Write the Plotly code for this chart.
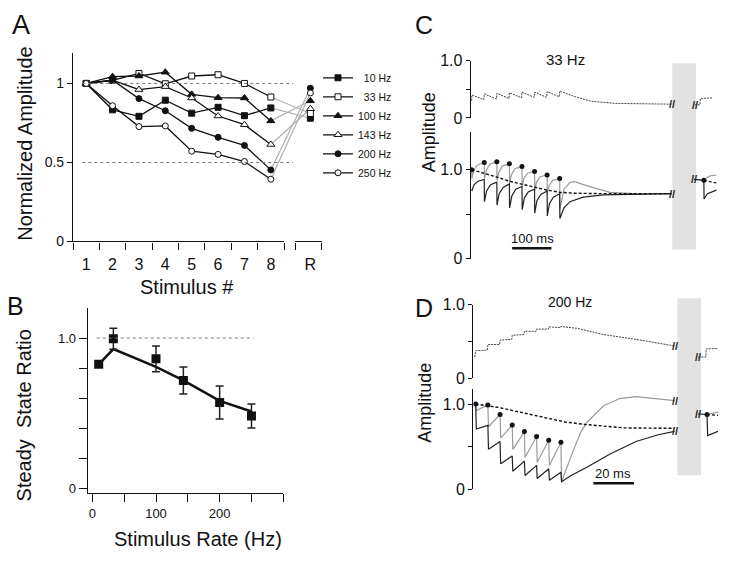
import plotly.graph_objects as go

FONT = "Liberation Sans, Arial, Helvetica, sans-serif"
W, H = 729, 568

# ---------------- Panel A : normalized amplitude per stimulus ----------------
STIM_LABELS = ["1", "2", "3", "4", "5", "6", "7", "8", "R"]
STIM_POS = [1, 2, 3, 4, 5, 6, 7, 8, 9.5]
A_NAMES = ["10 Hz", "33 Hz", "100 Hz", "143 Hz", "200 Hz", "250 Hz"]
A_10 = [1.0, 0.833, 0.792, 0.894, 0.812, 0.849, 0.796, 0.845, 0.78]
A_33 = [1.0, 1.02, 1.063, 0.998, 1.047, 1.055, 1.0, 0.914, 0.81]
A_100 = [1.0, 1.043, 1.047, 1.071, 0.931, 0.91, 0.908, 0.763, 0.89]
A_143 = [1.0, 1.02, 0.961, 0.98, 0.908, 0.794, 0.739, 0.614, 0.84]
A_200 = [1.0, 1.02, 0.904, 0.827, 0.716, 0.659, 0.608, 0.453, 0.97]
A_250 = [1.0, 0.859, 0.727, 0.731, 0.571, 0.551, 0.506, 0.394, 0.94]

# ---------------- Panel B : steady state ratio ----------------
B_RATE = [10, 33, 100, 143, 200, 250]
B_RATIO = [0.825, 0.996, 0.862, 0.718, 0.571, 0.481]
B_ERR = [0.02, 0.07, 0.086, 0.09, 0.11, 0.08]
B_FIT = [0.825, 0.927, 0.808, 0.718, 0.582, 0.511]

# ---------------- Panel C : 33 Hz model traces (time in ms) ----------------
C_UP_T = [0, 0.5, 31, 32, 63, 64, 95, 96, 127, 128, 159, 160, 191, 192, 223, 224, 263, 305, 365, 509]
C_UP_V = [0.30, 0.40, 0.32, 0.42, 0.33, 0.43, 0.34, 0.44, 0.35, 0.45, 0.36, 0.45, 0.36, 0.46, 0.37, 0.47,
          0.37, 0.29, 0.254, 0.24]
C_UP_POST_T = [568, 581, 582, 614]
C_UP_POST_V = [0.23, 0.23, 0.34, 0.35]

C_STIM = [0, 32, 64, 96, 128, 160, 192, 224]
C_DOT = [1.0, 1.08, 1.09, 1.065, 1.036, 0.98, 0.94, 0.90]
C_GREY_T = [0, 0.5, 5, 14, 32, 32.5, 37, 46, 64, 64.5, 69, 78, 96, 96.5, 101, 110, 128, 128.5, 133, 142,
            160, 160.5, 165, 174, 192, 192.5, 197, 206, 224, 224.5, 235, 250, 262, 292, 352, 420, 509]
C_GREY_V = [1.0, 0.90, 0.99, 1.05, 1.08, 0.90, 0.99, 1.06, 1.09, 0.88, 0.97, 1.04, 1.065, 0.85, 0.94, 1.01,
            1.036, 0.81, 0.90, 0.96, 0.98, 0.77, 0.86, 0.92, 0.94, 0.73, 0.82, 0.88, 0.90, 0.55, 0.78, 0.855,
            0.865, 0.82, 0.745, 0.727, 0.727]
C_BLACK_T = [0, 6, 16, 32, 32.5, 38, 48, 64, 64.5, 70, 80, 96, 96.5, 102, 112, 128, 128.5, 134, 144, 160,
             160.5, 166, 176, 192, 192.5, 198, 208, 224, 224.5, 235, 250, 284, 335, 420, 509]
C_BLACK_V = [0.76, 0.83, 0.87, 0.89, 0.64, 0.76, 0.83, 0.86, 0.60, 0.73, 0.80, 0.84, 0.57, 0.70, 0.78, 0.81,
             0.55, 0.68, 0.75, 0.78, 0.51, 0.65, 0.72, 0.76, 0.48, 0.62, 0.69, 0.73, 0.45, 0.57, 0.64, 0.69,
             0.716, 0.725, 0.73]
C_DASH_T = [0, 32, 64, 96, 128, 160, 192, 224, 260, 330, 509]
C_DASH_V = [1.0, 0.96, 0.916, 0.87, 0.836, 0.80, 0.77, 0.745, 0.735, 0.73, 0.73]
C_POST_DOT_T = [591]
C_POST_DOT_V = [0.88]
C_POST_BLACK_T = [566, 591, 591.5, 600, 623]
C_POST_BLACK_V = [0.89, 0.88, 0.67, 0.73, 0.77]
C_POST_GREY_T = [591, 598, 607, 623]
C_POST_GREY_V = [0.88, 0.91, 0.93, 0.94]
C_POST_DASH_T = [591, 623]
C_POST_DASH_V = [0.88, 0.85]

# ---------------- Panel D : 200 Hz model traces (time in ms) ----------------
D_UP_T = [-0.5, 0, 5.8, 6, 11.8, 12, 17.8, 18, 23.8, 24, 29.8, 30, 35.8, 36, 41.8, 42, 50, 63, 79, 98]
D_UP_V = [0.29, 0.375, 0.385, 0.46, 0.46, 0.52, 0.53, 0.586, 0.595, 0.64, 0.64, 0.67, 0.67, 0.70, 0.69,
          0.705, 0.68, 0.595, 0.53, 0.44]
D_UP_POST_T = [109.7, 113.4, 113.6, 119.4]
D_UP_POST_V = [0.29, 0.29, 0.40, 0.405]

D_STIM = [0, 6, 12, 18, 24, 30, 36, 42]
D_DOT = [1.0, 0.99, 0.878, 0.753, 0.677, 0.62, 0.574, 0.551]
D_GREY_T = [0, 0.3, 6, 6.3, 12, 12.3, 18, 18.3, 24, 24.3, 30, 30.3, 36, 36.3, 42, 42.3, 48, 52, 55, 63,
            71, 79, 98]
D_GREY_V = [1.0, 0.924, 0.99, 0.734, 0.878, 0.60, 0.753, 0.468, 0.677, 0.373, 0.62, 0.316, 0.574, 0.278,
            0.551, 0.087, 0.45, 0.68, 0.79, 0.98, 1.065, 1.087, 1.04]
D_BLACK_T = [0, 0.3, 6, 6.3, 12, 12.3, 18, 18.3, 24, 24.3, 30, 30.3, 36, 36.3, 42, 42.3, 47, 55, 66, 79,
             90, 98]
D_BLACK_V = [1.0, 0.707, 0.75, 0.468, 0.56, 0.30, 0.39, 0.21, 0.33, 0.16, 0.28, 0.125, 0.24, 0.106, 0.20,
             0.087, 0.16, 0.26, 0.41, 0.56, 0.64, 0.68]
D_DASH_T = [0, 11, 27.6, 44, 54, 73.5, 98]
D_DASH_V = [1.0, 0.962, 0.875, 0.79, 0.76, 0.72, 0.715]
D_POST_DOT_T = [114]
D_POST_DOT_V = [0.878]
D_POST_BLACK_T = [109.7, 114, 114.3, 119.4]
D_POST_BLACK_V = [0.885, 0.878, 0.63, 0.68]
D_POST_GREY_T = [114, 119.4]
D_POST_GREY_V = [0.878, 0.905]
D_POST_DASH_T = [114, 119.4]
D_POST_DASH_V = [0.878, 0.867]


def px(x):
    return x / W


def py(y):
    return 1 - y / H


BLACK = "#111111"
GREY = "#9a9a9a"

fig = go.Figure()

# ---- Panel A ----
a_series = [A_10, A_33, A_100, A_143, A_200, A_250]
a_style = [("square", BLACK, 6), ("square", "white", 6), ("triangle-up", BLACK, 7),
           ("triangle-up", "white", 7), ("circle", BLACK, 6), ("circle", "white", 6)]
legend_names = ["\u00a0\u00a010 Hz", "\u00a0\u00a033 Hz", "100 Hz", "143 Hz", "200 Hz", "250 Hz"]

for vals in a_series:
    fig.add_trace(go.Scatter(x=STIM_POS[7:], y=vals[7:], mode="lines",
                             line=dict(color="#b0b0b0", width=1.2), showlegend=False,
                             hoverinfo="skip", xaxis="x", yaxis="y"))
for vals, (sym, fill, sz), nm in zip(a_series, a_style, legend_names):
    mk = dict(symbol=sym, size=sz, color=fill, line=dict(color=BLACK, width=1))
    fig.add_trace(go.Scatter(x=STIM_POS[:8], y=vals[:8], mode="lines+markers", name=nm,
                             line=dict(color=BLACK, width=1.3), marker=mk, xaxis="x", yaxis="y"))
    fig.add_trace(go.Scatter(x=STIM_POS[8:], y=vals[8:], mode="markers", marker=mk,
                             showlegend=False, xaxis="x", yaxis="y"))

# dummy traces so that the decorative axis segments are drawn
fig.add_trace(go.Scatter(x=[None], y=[None], xaxis="x2", yaxis="y", showlegend=False, hoverinfo="skip"))
fig.add_trace(go.Scatter(x=[None], y=[None], xaxis="x3", yaxis="y", showlegend=False, hoverinfo="skip"))

# ---- Panel B ----
fig.add_trace(go.Scatter(x=B_RATE, y=B_FIT, mode="lines", line=dict(color=BLACK, width=2.5),
                         showlegend=False, xaxis="x4", yaxis="y4"))
fig.add_trace(go.Scatter(x=B_RATE, y=B_RATIO, mode="markers",
                         marker=dict(symbol="square", size=9, color=BLACK),
                         error_y=dict(type="data", array=B_ERR, color="#222", thickness=1.5, width=4),
                         showlegend=False, xaxis="x4", yaxis="y4"))


def line_tr(t, v, xa, ya, color, width=1.2, dash="solid"):
    fig.add_trace(go.Scatter(x=t, y=v, mode="lines", line=dict(color=color, width=width, dash=dash),
                             showlegend=False, hoverinfo="skip", xaxis=xa, yaxis=ya))


def dot_tr(t, v, xa, ya):
    fig.add_trace(go.Scatter(x=t, y=v, mode="markers", marker=dict(size=5, color=BLACK),
                             showlegend=False, hoverinfo="skip", xaxis=xa, yaxis=ya))


# ---- Panel C ----
line_tr(C_UP_T, C_UP_V, "x5", "y5", "#444", 1, "2px,1px")
line_tr(C_UP_POST_T, C_UP_POST_V, "x5", "y5", "#444", 1, "2px,1px")
line_tr(C_GREY_T, C_GREY_V, "x5", "y6", GREY, 1.2)
line_tr(C_BLACK_T, C_BLACK_V, "x5", "y6", "#222", 1.2)
line_tr(C_DASH_T, C_DASH_V, "x5", "y6", BLACK, 1.4, "3px,2px")
dot_tr(C_STIM, C_DOT, "x5", "y6")
line_tr(C_POST_GREY_T, C_POST_GREY_V, "x5", "y6", GREY, 1.2)
line_tr(C_POST_BLACK_T, C_POST_BLACK_V, "x5", "y6", "#222", 1.2)
line_tr(C_POST_DASH_T, C_POST_DASH_V, "x5", "y6", BLACK, 1.2, "3px,2px")
dot_tr(C_POST_DOT_T, C_POST_DOT_V, "x5", "y6")

# ---- Panel D ----
line_tr(D_UP_T, D_UP_V, "x6", "y7", "#444", 1, "2px,1px")
line_tr(D_UP_POST_T, D_UP_POST_V, "x6", "y7", "#444", 1, "2px,1px")
line_tr(D_GREY_T, D_GREY_V, "x6", "y8", GREY, 1.2)
line_tr(D_BLACK_T, D_BLACK_V, "x6", "y8", "#222", 1.2)
line_tr(D_DASH_T, D_DASH_V, "x6", "y8", BLACK, 1.4, "3px,2px")
dot_tr(D_STIM, D_DOT, "x6", "y8")
line_tr(D_POST_GREY_T, D_POST_GREY_V, "x6", "y8", GREY, 1.2)
line_tr(D_POST_BLACK_T, D_POST_BLACK_V, "x6", "y8", "#222", 1.2)
line_tr(D_POST_DASH_T, D_POST_DASH_V, "x6", "y8", BLACK, 1.2, "3px,2px")
dot_tr(D_POST_DOT_T, D_POST_DOT_V, "x6", "y8")

# ---------------- layout ----------------
base = dict(showgrid=False, zeroline=False, linecolor=BLACK, linewidth=1.2, tickcolor=BLACK,
            tickwidth=1.2, tickfont=dict(family=FONT, size=14, color=BLACK))


def ax(**kw):
    d = dict(base)
    d.update(kw)
    return d


trace_y_ticks = dict(tickvals=[0, 0.5, 1.0], ticktext=["0", "", "1.0"], ticks="outside", ticklen=4,
                     showline=True, tickfont=dict(family=FONT, size=16, color=BLACK))

layout = dict(
    width=W, height=H, autosize=False, margin=dict(l=0, r=0, t=0, b=0),
    paper_bgcolor="white", plot_bgcolor="rgba(0,0,0,0)",
    font=dict(family=FONT, color=BLACK),
    showlegend=True,
    legend=dict(x=px(318), y=py(57), xanchor="left", yanchor="top", font=dict(size=10.5, family=FONT),
                bgcolor="rgba(0,0,0,0)", itemwidth=30, tracegroupgap=0),
    xaxis=ax(domain=[px(73), px(322)], range=[0.5, 9.94], tickvals=STIM_POS, ticktext=STIM_LABELS,
             ticks="outside", ticklen=8, tickcolor="rgba(0,0,0,0)", showline=False, anchor="y",
             tickfont=dict(family=FONT, size=16, color=BLACK)),
    xaxis2=ax(domain=[px(73), px(284)], range=[0.5, 8.5], tickvals=[i + 0.5 for i in range(9)],
              ticks="outside", ticklen=7, showticklabels=False, showline=True, anchor="y"),
    xaxis3=ax(domain=[px(295), px(322)], range=[8.92, 9.94], tickvals=[8.93, 9.93],
              ticks="outside", ticklen=7, showticklabels=False, showline=True, anchor="y"),
    yaxis=ax(domain=[py(240.7), py(46)], range=[0, 1.195], tickvals=[0, 0.5, 1],
             ticktext=["0", "0.5", "1"], ticks="outside", ticklen=5, showline=True, anchor="x"),
    xaxis4=ax(domain=[px(87.7), px(283.3)], range=[-7.3, 300], tickvals=[0, 50, 100, 150, 200, 250, 300],
              ticktext=["0", "", "100", "", "200", "", ""], ticks="outside", ticklen=8, showline=True,
              anchor="y4", tickfont=dict(family=FONT, size=13, color=BLACK)),
    yaxis4=ax(domain=[py(500), py(309.3)], range=[-0.032, 1.2], tickvals=[0, 0.2, 0.4, 0.6, 0.8, 1.0],
              ticktext=["0", "", "", "", "", "1.0"], ticks="outside", ticklen=8, showline=True,
              anchor="x4", tickfont=dict(family=FONT, size=13, color=BLACK)),
    xaxis5=dict(domain=[px(470.7), px(718)], range=[-2.5, 627], visible=False, anchor="y6"),
    yaxis5=ax(domain=[py(113.3), py(54.3)], range=[0, 1], anchor="x5", **trace_y_ticks),
    yaxis6=ax(domain=[py(258.3), py(128.3)], range=[0, 1.418], anchor="x5", **trace_y_ticks),
    xaxis6=dict(domain=[px(473.3), px(718)], range=[-1.18, 119.4], visible=False, anchor="y8"),
    yaxis7=ax(domain=[py(381.7), py(306)], range=[0, 1], anchor="x6", **trace_y_ticks),
    yaxis8=ax(domain=[py(496), py(392.7)], range=[0, 1.178], anchor="x6", **trace_y_ticks),
)
fig.update_layout(**layout)

shapes = [
    # grey "gap" bands
    dict(type="rect", xref="paper", yref="paper", x0=px(672.3), x1=px(696), y0=py(249), y1=py(57),
         fillcolor="#e2e2e2", line=dict(width=0), layer="below"),
    dict(type="rect", xref="paper", yref="paper", x0=px(677.3), x1=px(701), y0=py(481.7), y1=py(299.3),
         fillcolor="#e2e2e2", line=dict(width=0), layer="below"),
    # dotted reference lines
    dict(type="line", xref="x", yref="y", x0=0.85, x1=8.84, y0=1, y1=1,
         line=dict(color="#777", width=1, dash="dot")),
    dict(type="line", xref="x", yref="y", x0=0.85, x1=8.84, y0=0.5, y1=0.5,
         line=dict(color="#777", width=1, dash="dot")),
    dict(type="line", xref="x4", yref="y4", x0=7, x1=253, y0=1, y1=1,
         line=dict(color="#777", width=1, dash="dot")),
    # scale bars
    dict(type="line", xref="x5", yref="y6", x0=103, x1=203, y0=0.116, y1=0.116,
         line=dict(color=BLACK, width=2.5)),
    dict(type="line", xref="x6", yref="y8", x0=58, x1=78, y0=0.068, y1=0.068,
         line=dict(color=BLACK, width=2.5)),
]
fig.update_layout(shapes=shapes)


def txt(x, y, s, size, angle=0, xanchor="center"):
    return dict(x=px(x), y=py(y), xref="paper", yref="paper", text=s, showarrow=False,
                font=dict(family=FONT, size=size, color=BLACK), textangle=angle,
                xanchor=xanchor, yanchor="middle")


def brk(xa, ya, t, v):
    return dict(x=t, y=v, xref=xa, yref=ya, text="<b>//</b>", showarrow=False,
                font=dict(family=FONT, size=11, color="#222"), xanchor="center", yanchor="middle")


ann = [
    txt(21, 18, "A", 27), txt(15, 307, "B", 25), txt(424, 18, "C", 25), txt(424, 309, "D", 25),
    txt(25, 140, "Normalized Amplitude", 20, -90),
    txt(187, 288, "Stimulus #", 20),
    txt(24, 420, "Steady\u00a0 State Ratio", 20, -90),
    txt(198, 547, "Stimulus Rate (Hz)", 20),
    txt(429, 128, "Amplitude", 18, -90),
    txt(425, 407, "Amplitude", 18, -90),
    txt(565, 53, "33 Hz", 15),
    txt(570, 303, "200 Hz", 14),
    txt(532, 238, "100 ms", 13),
    txt(613, 480, "20 ms", 13),
    brk("x5", "y5", C_UP_T[-1], C_UP_V[-1]),
    brk("x5", "y5", C_UP_POST_T[0], C_UP_POST_V[0]),
    brk("x5", "y6", C_BLACK_T[-1], C_BLACK_V[-1]),
    brk("x5", "y6", C_POST_BLACK_T[0], C_POST_BLACK_V[0]),
    brk("x6", "y7", D_UP_T[-1], D_UP_V[-1]),
    brk("x6", "y7", D_UP_POST_T[0], D_UP_POST_V[0]),
    brk("x6", "y8", D_GREY_T[-1], D_GREY_V[-1]),
    brk("x6", "y8", D_BLACK_T[-1], D_BLACK_V[-1]),
    brk("x6", "y8", D_POST_BLACK_T[0], D_POST_BLACK_V[0]),
]
fig.update_layout(annotations=ann)

fig.write_html("out.html", config={"displayModeBar": False},
               post_script="document.body.style.margin='0px';")
